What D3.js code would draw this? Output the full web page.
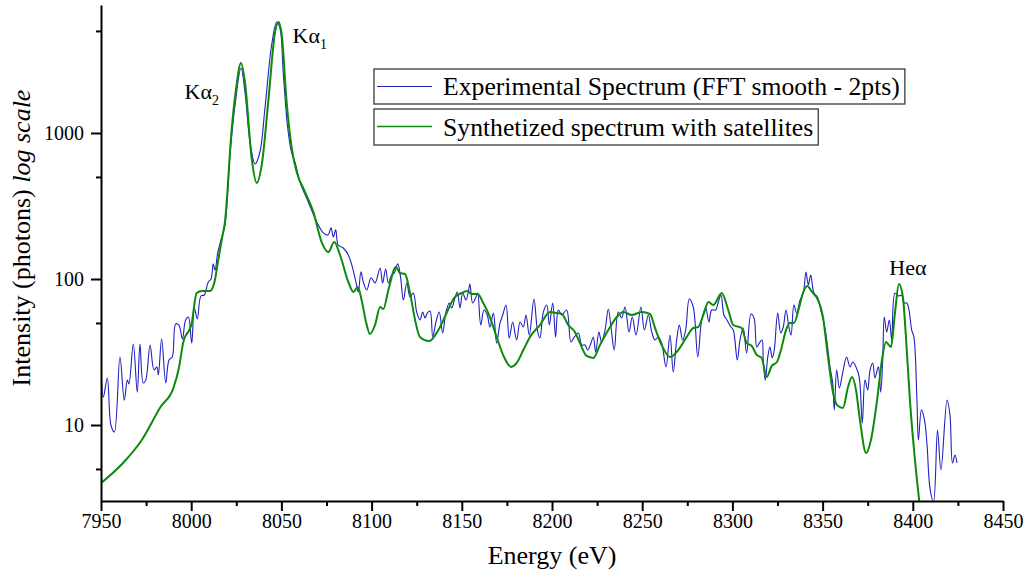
<!DOCTYPE html>
<html>
<head>
<meta charset="utf-8">
<script src="https://cdn.jsdelivr.net/npm/d3@7"></script>
<style>
  body { margin: 0; background: #fff; }
  svg { display: block; font-family: "Liberation Serif", "Times New Roman", serif; }
</style>
</head>
<body>
<div id="chart"></div>
<script>
// experimental spectrum (FFT smooth)
const expEnergy = [7950, 7951.3, 7953.5, 7955.5, 7957.4, 7960.5, 7962.9, 7964.6, 7965.5, 7967.9,
  7970.1, 7971.6, 7973.4, 7974.8, 7977.2, 7979.4, 7981.0, 7981.8, 7983.6, 7985.9,
  7987.7, 7989.5, 7991.4, 7993.2, 7995.1, 7996.9, 7998.4, 8000.3, 8001.7, 8003.4,
  8005.4, 8007.3, 8008.2, 8009.5, 8011.0, 8012.2, 8013.2, 8014.7, 8016.5, 8018.7,
  8021.5, 8024.3, 8027.6, 8029.8, 8032.6, 8035.4, 8038.1, 8040.9, 8044.6, 8047.4,
  8049.2, 8051.1, 8053.5, 8055.7, 8057.5, 8060.3, 8064.9, 8069.6, 8073.2, 8075.8,
  8077.5, 8078.8, 8080.1, 8081.5, 8084.3, 8087.1, 8089.0, 8091.3, 8092.6, 8094.1,
  8095.4, 8097.3, 8099.7, 8101.9, 8104.7, 8106.1, 8107.8, 8109.3, 8111.1, 8112.6,
  8114.5, 8116.1, 8117.6, 8119.5, 8121.3, 8123.1, 8125.0, 8126.8, 8128.3, 8129.6,
  8130.9, 8132.4, 8133.9, 8135.7, 8137.5, 8139.4, 8141.2, 8143.1, 8144.4, 8146.2,
  8147.5, 8149.0, 8150.5, 8152.3, 8153.6, 8154.5, 8156.0, 8157.9, 8158.8, 8160.5,
  8162.3, 8164.1, 8165.6, 8167.5, 8169.3, 8171.2, 8172.7, 8174.5, 8176.3, 8178.2,
  8180.4, 8182.3, 8184.1, 8185.6, 8187.4, 8190.0, 8191.9, 8193.3, 8195.2, 8197.1,
  8198.5, 8200.4, 8202.0, 8203.5, 8205.4, 8208.1, 8210.5, 8212.4, 8214.6, 8216.5,
  8218.3, 8219.8, 8221.6, 8222.9, 8224.2, 8226.0, 8227.5, 8229.4, 8231.2, 8232.7,
  8234.5, 8236.7, 8238.6, 8240.5, 8242.7, 8244.5, 8246.6, 8249.3, 8251.2, 8253.4,
  8255.3, 8257.1, 8258.9, 8260.8, 8263.2, 8265.4, 8267.2, 8269.1, 8270.6, 8272.4,
  8274.1, 8276.1, 8278.3, 8280.8, 8283.0, 8285.2, 8287.0, 8288.5, 8290.7, 8292.2,
  8293.7, 8295.3, 8297.0, 8299.2, 8300.5, 8302.7, 8304.2, 8306.0, 8307.9, 8310.3,
  8312.0, 8313.5, 8314.9, 8316.4, 8317.1, 8318.2, 8319.6, 8320.8, 8322.1, 8323.2,
  8325.1, 8326.8, 8328.2, 8329.7, 8331.4, 8332.5, 8334.1, 8335.6, 8337.5, 8339.3,
  8340.8, 8342.1, 8343.4, 8345.2, 8347.1, 8349.0, 8350.4, 8352.3, 8354.1, 8355.6,
  8356.5, 8357.8, 8359.3, 8361.1, 8363.3, 8365.2, 8366.7, 8368.5, 8370.3, 8372.0,
  8373.5, 8375.0, 8376.3, 8377.8, 8379.0, 8380.9, 8382.2, 8383.3, 8384.2, 8385.5,
  8387.0, 8388.3, 8390.1, 8392.0, 8393.8, 8395.1, 8396.6, 8397.9, 8399.4, 8400.6,
  8402.3, 8403.1, 8404.8, 8406.5, 8407.9, 8409.5, 8411.5, 8413.7, 8415.6, 8419.0,
  8420.6, 8422.0, 8423.4, 8424.5];
const expCounts = [25.0, 15.5, 21.0, 10.0, 8.95, 29.2, 14.8, 20.3, 19.1, 35.9,
  16.8, 35.9, 19.4, 20.3, 35.3, 23.8, 25.0, 22.0, 38.8, 19.4,
  27.9, 29.2, 49.2, 48.4, 38.8, 52.4, 54.9, 36.4, 63.3, 53.2,
  76.5, 77.7, 84.1, 95.4, 100, 127, 115, 151, 185, 234,
  707, 1555, 2788, 1909, 868, 613, 741, 1483, 4005, 5759,
  5239, 2496, 1082, 730, 633, 462, 337, 246, 207, 200,
  224, 194, 217, 171, 163, 146, 125, 95.4, 81.5, 112,
  95.4, 84.1, 102, 93.9, 119, 93.9, 117, 93.9, 106.5, 110,
  127, 102, 71.8, 93.9, 75.3, 80.2, 59.4, 52.4, 59.4, 54.1,
  58.5, 60.4, 40.1, 50.8, 59.4, 42.7, 59.4, 68.5, 63.3, 74.1,
  81.5, 63.3, 80.2, 71.8, 81.5, 92.4, 68.5, 75.3, 80.2, 48.4,
  61.3, 56.7, 46.9, 58.5, 36.4, 50.0, 56.7, 66.4, 39.4, 50.8,
  38.2, 50.8, 46.9, 56.7, 41.3, 72.9, 44.7, 39.4, 59.4, 66.4,
  48.4, 68.5, 40.1, 61.3, 56.7, 61.3, 37.0, 40.1, 42.7, 35.3,
  35.3, 32.6, 36.4, 40.1, 31.6, 43.3, 37.0, 44.7, 62.3, 46.9,
  32.6, 59.4, 54.1, 64.3, 43.3, 54.9, 41.3, 64.3, 44.7, 56.7,
  43.3, 38.2, 40.1, 36.4, 25.0, 41.3, 23.1, 38.2, 48.4, 38.2,
  44.7, 72.9, 64.3, 29.2, 52.4, 63.3, 50.8, 61.3, 61.3, 69.6,
  77.7, 56.7, 52.4, 46.9, 44.7, 27.9, 38.2, 46.2, 31.1, 57.6,
  54.1, 34.2, 36.4, 38.2, 27.9, 20.3, 29.2, 34.2, 28.8, 32.6,
  58.5, 42.7, 46.9, 61.3, 46.2, 41.3, 66.4, 58.5, 71.8, 80.2,
  111.7, 91.0, 106.5, 80.2, 75.3, 61.3, 52.4, 38.2, 25.0, 19.4,
  12.7, 23.8, 17.9, 22.7, 29.2, 25.0, 27.0, 25.0, 21.3, 10.3,
  20.3, 17.4, 23.8, 26.6, 21.0, 25.0, 16.8, 27.9, 54.9, 43.3,
  52.4, 38.2, 80.2, 76.5, 77.7, 68.5, 68.5, 61.3, 44.7, 40.1,
  14.8, 7.9, 12.7, 10.8, 7.3, 3.70, 2.97, 9.24, 4.92, 14.8,
  11.7, 5.49, 6.23, 5.49];

// synthesized spectrum with satellites
const synEnergy = [7950, 7962.2, 7972.6, 7983.0, 7990.1, 7993.2, 7995.5, 8000.3, 8003.0, 8006.0,
  8010.4, 8012.9, 8015.0, 8017.1, 8018.7, 8022.5, 8024.8, 8027.6, 8029.8, 8033.5,
  8036.3, 8039.1, 8042.7, 8046.5, 8048.4, 8050.2, 8052.9, 8055.7, 8058.5, 8063.1,
  8067.7, 8072.3, 8076.0, 8079.3, 8082.5, 8087.1, 8089.9, 8092.3, 8094.7, 8096.9,
  8099.1, 8101.9, 8104.7, 8106.5, 8109.3, 8113.5, 8115.7, 8118.5, 8121.3, 8124.1,
  8126.8, 8132.0, 8137.0, 8141.6, 8145.7, 8149.9, 8153.0, 8155.5, 8158.8, 8161.9,
  8165.6, 8169.3, 8173.4, 8177.3, 8180.4, 8184.1, 8187.8, 8193.3, 8198.9, 8202.6,
  8205.5, 8209.0, 8212.7, 8215.5, 8219.2, 8222.9, 8226.6, 8231.2, 8235.9, 8239.5,
  8244.2, 8249.7, 8254.3, 8257.1, 8260.8, 8265.4, 8269.1, 8274.7, 8278.3, 8281.1,
  8283.9, 8286.7, 8289.4, 8294.1, 8297.7, 8300.5, 8305.1, 8307.9, 8310.7, 8313.5,
  8316.2, 8319.0, 8321.8, 8324.7, 8326.9, 8329.7, 8331.9, 8334.1, 8336.9, 8339.1,
  8341.5, 8344.1, 8346.9, 8350.2, 8353.0, 8355.8, 8358.5, 8361.3, 8364.1, 8366.3,
  8368.5, 8370.7, 8374.1, 8376.8, 8380.2, 8382.9, 8385.1, 8387.9, 8390.1, 8392.3,
  8394.5, 8396.2, 8398.4, 8401.2, 8403.7];
const synCounts = [4.0, 5.49, 7.9, 13.3, 17.9, 24.6, 36.4, 50.0, 80.2, 82.8,
  82.8, 95.4, 134.9, 190.9, 245.7, 1082, 1970, 3016, 2235, 674,
  455, 604, 1631, 4919, 5759, 4691, 1631, 790, 541, 394,
  288, 179, 153, 179, 146, 95.4, 81.5, 88.2, 69.6, 50.8,
  42.0, 48.4, 64.3, 62.3, 84.1, 120.8, 110, 108.2, 80.2, 52.4,
  40.1, 37.6, 44.7, 58.5, 74.1, 80.2, 82.8, 78.9, 78.9, 68.5,
  54.9, 40.1, 29.2, 25.0, 26.6, 32.6, 40.1, 48.4, 59.4, 58.5,
  57.6, 48.4, 43.3, 36.4, 29.7, 28.8, 35.3, 44.7, 54.9, 59.4,
  56.7, 59.4, 57.6, 46.2, 35.3, 29.2, 31.6, 40.1, 46.2, 46.9,
  56.7, 69.6, 66.4, 80.2, 61.3, 48.4, 46.2, 36.4, 34.8, 30.2,
  28.8, 21.3, 25.4, 27.0, 32.6, 44.7, 50.0, 50.0, 63.3, 80.2,
  89.6, 81.5, 74.1, 54.9, 29.2, 16.6, 13.5, 13.1, 18.2, 21.3,
  17.4, 10.8, 6.43, 7.9, 14.8, 27.9, 37.0, 34.2, 58.5, 92.4,
  75.3, 40.1, 14.8, 5.76, 2.92];

const xDomain = [7950, 8450];
const yDomain = [3.017, 7527];
const xTicks = [7950, 8000, 8050, 8100, 8150, 8200, 8250, 8300, 8350, 8400, 8450];
const xMinorTicks = [7975, 8025, 8075, 8125, 8175, 8225, 8275, 8325, 8375, 8425];
const yTicks = [10, 100, 1000];
const yMinorTicks = [5, 50, 500, 5000];
const legendLabels = ["Experimental Spectrum (FFT smooth - 2pts)", "Synthetized spectrum with satellites"];
const peakNames = ["K\u03b1", "K\u03b1", "He\u03b1"];
const peakSubs = ["2", "1", ""];
const peakEnergy = [8027.6, 8048.4, 8392.3];
const peakCounts = [3016, 5759, 92.4];

const blue = "#2020c0";
const green = "#0b8a0b";

document.addEventListener("DOMContentLoaded", function () {
  drawChart();
});

function drawChart() {
  const width = 1030, height = 577;
  const left = 101, right = 1003, top = 5, bottom = 501;

  let svg = d3.select("#chart").append("svg")
    .attr("width", width)
    .attr("height", height);

  let x = d3.scaleLinear().domain(xDomain).range([left, right]);
  let y = d3.scaleLog().domain(yDomain).range([bottom, top]);

  svg.append("clipPath").attr("id", "plotArea")
    .append("rect")
    .attr("x", left).attr("y", top)
    .attr("width", right - left).attr("height", bottom - top);

  const expData = expEnergy.map((e, i) => [e, expCounts[i]]);
  const synData = synEnergy.map((e, i) => [e, synCounts[i]]);

  let expLine = d3.line()
    .x(d => x(d[0]))
    .y(d => y(d[1]))
    .curve(d3.curveCatmullRom.alpha(0.5));
  let synLine = d3.line()
    .x(d => x(d[0]))
    .y(d => y(d[1]))
    .curve(d3.curveMonotoneX);

  let plot = svg.append("g").attr("clip-path", "url(#plotArea)");
  plot.append("path")
    .datum(expData)
    .attr("d", expLine)
    .attr("fill", "none")
    .attr("stroke", blue)
    .attr("stroke-width", 1.1);
  plot.append("path")
    .datum(synData)
    .attr("d", synLine)
    .attr("fill", "none")
    .attr("stroke", green)
    .attr("stroke-width", 2);

  // axes
  svg.append("g")
    .attr("transform", "translate(0," + bottom + ")")
    .call(d3.axisBottom(x).tickValues(xTicks).tickSize(10).tickSizeOuter(0).tickPadding(3).tickFormat(d3.format("d")));
  svg.append("g")
    .attr("transform", "translate(0," + bottom + ")")
    .call(d3.axisBottom(x).tickValues(xMinorTicks).tickSize(5).tickFormat(""))
    .call(g => g.select(".domain").remove());

  svg.append("g")
    .attr("transform", "translate(" + left + ",0)")
    .call(d3.axisLeft(y).tickValues(yTicks).tickSize(10).tickSizeOuter(0).tickPadding(7).tickFormat(d3.format("d")));
  svg.append("g")
    .attr("transform", "translate(" + left + ",0)")
    .call(d3.axisLeft(y).tickValues(yMinorTicks).tickSize(5).tickFormat(""))
    .call(g => g.select(".domain").remove());

  svg.selectAll(".domain, .tick line")
    .attr("stroke", "#000")
    .attr("stroke-width", 2);
  svg.selectAll(".tick text")
    .attr("fill", "#000")
    .style("font-size", "20px")
    .style("font-family", "'Liberation Serif', serif");

  svg.append("text")
    .attr("x", (left + right) / 2)
    .attr("y", 564)
    .attr("text-anchor", "middle")
    .style("font-size", "26px")
    .text("Energy (eV)");

  let yTitle = svg.append("text")
    .attr("transform", "translate(30," + 238 + ")rotate(-90)")
    .attr("text-anchor", "middle")
    .style("font-size", "26px");
  yTitle.append("tspan").text("Intensity (photons) ");
  yTitle.append("tspan").style("font-style", "italic").text("log scale");

  // legend, one box per series
  const colors = [blue, green];
  legendLabels.forEach(function (label, i) {
    let boxTop = 69 + i * 40;
    let g = svg.append("g");
    let rect = g.append("rect")
      .attr("x", 374).attr("y", boxTop)
      .attr("height", 35 + i)
      .attr("fill", "#fff")
      .attr("stroke", "#3a3a3a")
      .attr("stroke-width", 1.3);
    g.append("line")
      .attr("x1", 377).attr("x2", 432)
      .attr("y1", boxTop + 17.5).attr("y2", boxTop + 17.5)
      .attr("stroke", colors[i])
      .attr("stroke-width", i === 0 ? 1.1 : 1.6);
    let t = g.append("text")
      .attr("x", 443).attr("y", boxTop + 26 + i)
      .style("font-size", "25.7px")
      .text(label);
    rect.attr("width", 443 - 374 + t.node().getComputedTextLength() + 5);
  });

  // peak labels
  const dx = [-22, 14, 9];
  const dy = [36, 21, -9];
  const anchor = ["end", "start", "middle"];
  peakNames.forEach(function (name, i) {
    let t = svg.append("text")
      .attr("x", x(peakEnergy[i]) + dx[i])
      .attr("y", y(peakCounts[i]) + dy[i])
      .attr("text-anchor", anchor[i])
      .style("font-size", "22px");
    t.append("tspan").text(name);
    if (peakSubs[i]) {
      t.append("tspan").attr("dy", 6).style("font-size", "14px").text(peakSubs[i]);
    }
  });
}
</script>
</body>
</html>
